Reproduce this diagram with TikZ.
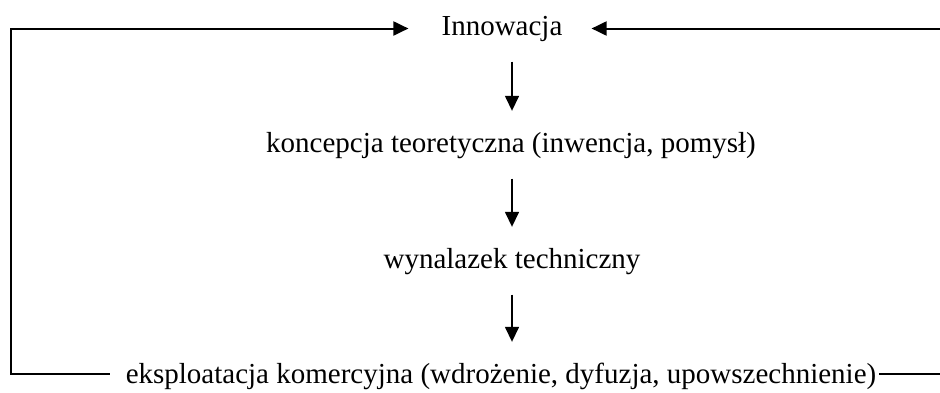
\documentclass[tikz,border=0pt]{standalone}
\usepackage{fontspec}
\setmainfont{Liberation Serif}
\usetikzlibrary{arrows.meta}
\begin{document}
\begin{tikzpicture}[x=1pt,y=-1pt,
  lbl/.style={anchor=base, inner sep=0pt, text height=20pt, text depth=6.3pt,
    font=\fontsize{29}{35}\selectfont},
  tip/.style={-{Triangle[length=15pt,width=14pt]}},
  stepflow/.style={line width=1.5pt, tip, shorten <=20pt, shorten >=21pt},
  frame/.style={line width=2pt},
]
\useasboundingbox (0,0) rectangle (940,392);

% labels of the chain
\node[lbl] (inno) at (502,35)  {Innowacja};
\node[lbl] (konc) at (511,152) {koncepcja teoretyczna (inwencja, pomysł)};
\node[lbl] (wyn)  at (512,268) {wynalazek techniczny};
\node[lbl] (eks)  at (501,383) {eksploatacja komercyjna (wdrożenie, dyfuzja, upowszechnienie)};

% column of the downward arrows
\coordinate (col) at (512,0);
\draw[stepflow] (inno.south -| col) -- (konc.north -| col);
\draw[stepflow] (konc.south -| col) -- (wyn.north -| col);
\draw[stepflow] (wyn.south -| col) -- (eks.north -| col);

% feedback loops
\coordinate (ltop) at (11,28.5);
\coordinate (lbot) at (11,374);
\coordinate (rtop) at (940,28.5);
\coordinate (rbot) at (940,374);
\draw[frame, tip, line join=miter] ([xshift=-16pt]eks.west |- lbot) -- (lbot) -- (ltop)
  -- ([xshift=-33pt]inno.west |- ltop);
\draw[frame, tip] (rtop) -- ([xshift=29pt]inno.east |- rtop);
\draw[frame] ([xshift=3pt]eks.east |- rbot) -- (rbot);
\end{tikzpicture}
\end{document}
